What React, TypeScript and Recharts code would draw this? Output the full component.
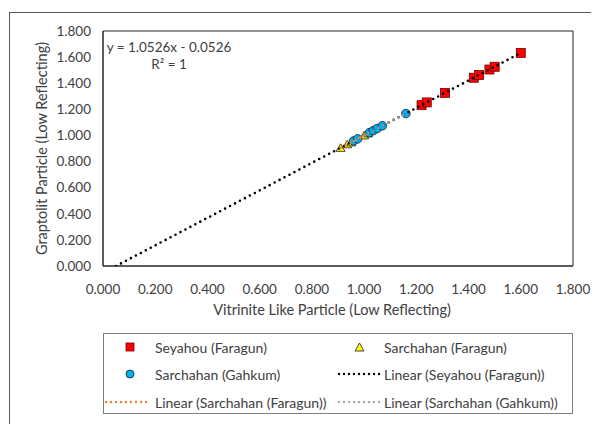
import React from 'react';
import { ScatterChart, Scatter, XAxis, YAxis, ReferenceArea, Legend, Customized, Label } from 'recharts';

const axisTicks = [0, 0.2, 0.4, 0.6, 0.8, 1.0, 1.2, 1.4, 1.6, 1.8];

const seyahouX = [1.22, 1.24, 1.31, 1.42, 1.44, 1.48, 1.5, 1.6];
const seyahouY = [1.232, 1.253, 1.326, 1.442, 1.463, 1.505, 1.526, 1.632];

const faragunX = [0.91, 0.935, 0.95, 1.0, 1.015];
const faragunY = [0.905, 0.932, 0.947, 1.0, 1.016];

const gahkumX = [0.96, 0.975, 1.02, 1.035, 1.05, 1.07, 1.16];
const gahkumY = [0.958, 0.974, 1.021, 1.037, 1.053, 1.074, 1.168];

const seyahouTrendX = [0.05, 1.6];
const seyahouTrendY = [0, 1.632];
const faragunTrendX = [0.91, 1.015];
const faragunTrendY = [0.905, 1.016];
const gahkumTrendX = [0.96, 1.16];
const gahkumTrendY = [0.958, 1.168];

const equationLines = ['y = 1.0526x - 0.0526', 'R² = 1'];

const zip = (xs: number[], ys: number[]) => xs.map((x, i) => ({ x, y: ys[i] }));

const seyahouData = zip(seyahouX, seyahouY);
const faragunData = zip(faragunX, faragunY);
const gahkumData = zip(gahkumX, gahkumY);
const seyahouTrend = zip(seyahouTrendX, seyahouTrendY);
const faragunTrend = zip(faragunTrendX, faragunTrendY);
const gahkumTrend = zip(gahkumTrendX, gahkumTrendY);

const FONT = 'Lato, "Open Sans", sans-serif';
const TEXT = '#404040';
const FS = 14;

const SquareShape = (p: any) => (
  <rect x={p.cx - 4.5} y={p.cy - 4.5} width={9} height={9} fill="#ff0000" stroke="#700000" strokeWidth={0.8} />
);
const CircleShape = (p: any) => (
  <circle cx={p.cx} cy={p.cy} r={4.3} fill="#00b0f0" stroke="#1a1a1a" strokeWidth={0.8} />
);
const TriangleShape = (p: any) => (
  <path d={`M${p.cx},${p.cy - 4} L${p.cx + 4.5},${p.cy + 3.5} L${p.cx - 4.5},${p.cy + 3.5} Z`} fill="#ffff00" stroke="#1a1a1a" strokeWidth={0.8} />
);
const NoShape = () => <g />;

const dotted = (color: string) => ({
  stroke: color,
  strokeWidth: 2.6,
  strokeDasharray: '0 5.6',
  strokeLinecap: 'round' as const,
});

const LegendLine = ({ color, width }: { color: string; width: number }) => (
  <svg width={width} height={6} style={{ display: 'block' }}>
    <line x1={2} y1={3} x2={width - 2} y2={3} stroke={color} strokeWidth={2.4} strokeDasharray="0 5" strokeLinecap="round" />
  </svg>
);

const renderLegend = () => {
  const item = (left: number, top: number, node: React.ReactNode) => (
    <div style={{ position: 'absolute', left, top, transform: 'translateY(-50%)', lineHeight: 0 }}>{node}</div>
  );
  const label = (left: number, top: number, text: string) => (
    <div style={{ position: 'absolute', left, top, transform: 'translateY(-50%)', fontSize: FS, color: TEXT, fontFamily: FONT, whiteSpace: 'nowrap', lineHeight: '17px' }}>{text}</div>
  );
  return (
    <div style={{ position: 'relative', width: 470, height: 81, border: '1px solid #7f7f7f', boxSizing: 'border-box', background: '#fff' }}>
      {item(21, 13, <svg width={10} height={10}><rect x={1} y={1} width={8} height={8} fill="#ff0000" stroke="#700000" strokeWidth={0.8} /></svg>)}
      {label(51, 13, 'Seyahou (Faragun)')}
      {item(250, 13, <svg width={11} height={10}><path d="M5.5,1 L10,9 L1,9 Z" fill="#ffff00" stroke="#1a1a1a" strokeWidth={0.8} /></svg>)}
      {label(280, 13, 'Sarchahan (Faragun)')}
      {item(21, 40, <svg width={10} height={10}><circle cx={5} cy={5} r={4} fill="#00b0f0" stroke="#1a1a1a" strokeWidth={0.8} /></svg>)}
      {label(51, 40, 'Sarchahan (Gahkum)')}
      {item(233, 40, <LegendLine color="#000" width={46} />)}
      {label(280, 40, 'Linear (Seyahou (Faragun))')}
      {item(0, 68, <LegendLine color="#ed7d31" width={48} />)}
      {label(51, 68, 'Linear (Sarchahan (Faragun))')}
      {item(233, 68, <LegendLine color="#a6a6a6" width={46} />)}
      {label(280, 68, 'Linear (Sarchahan (Gahkum))')}
    </div>
  );
};

const Equation = () => (
  <g>
    <text x={169} y={52} textAnchor="middle" fontSize={13.5} fill={TEXT} fontFamily={FONT}>{equationLines[0]}</text>
    <text x={169} y={69} textAnchor="middle" fontSize={13.5} fill={TEXT} fontFamily={FONT}>{equationLines[1]}</text>
  </g>
);

export default function App() {
  return (
    <div style={{ position: 'relative', left: -8, top: -8, width: 599, height: 428, background: '#fff', fontFamily: FONT }}>
      <div style={{ position: 'absolute', left: 9, top: 12, right: 0, bottom: 4, borderTop: '1px solid #595959', borderLeft: '1px solid #595959' }} />
      <ScatterChart width={599} height={428} margin={{ top: 31, right: 26, left: 0, bottom: 74 }} style={{ position: 'absolute', left: 0, top: 0 }}>
        <XAxis
          type="number"
          dataKey="x"
          domain={[0, 1.8]}
          ticks={axisTicks}
          tickFormatter={(v: number) => v.toFixed(3)}
          tickLine={false}
          tickSize={6}
          tickMargin={12}
          height={88}
          stroke="#262626"
          tick={{ fill: TEXT, fontSize: 13.5, fontFamily: FONT }}
          allowDataOverflow
        >
          <Label value="Vitrinite Like Particle (Low Reflecting)" position="center" dx={-6} style={{ fill: TEXT, fontSize: 14.5, fontFamily: FONT }} />
        </XAxis>
        <YAxis
          type="number"
          dataKey="y"
          domain={[0, 1.8]}
          ticks={axisTicks}
          tickFormatter={(v: number) => v.toFixed(3)}
          tickLine={false}
          tickSize={6}
          tickMargin={6}
          width={103}
          stroke="#262626"
          tick={{ fill: TEXT, fontSize: 13.5, fontFamily: FONT }}
          allowDataOverflow
        >
          <Label value="Graptolit Particle (Low Reflecting)" position="center" angle={-90} dx={-10} style={{ fill: TEXT, fontSize: 14.5, fontFamily: FONT, textAnchor: 'middle' }} />
        </YAxis>
        <ReferenceArea x1={0} x2={1.8} y1={0} y2={1.8} fill="none" stroke="#262626" strokeWidth={1} fillOpacity={0} />
        <Scatter name="Seyahou (Faragun)" data={seyahouData} shape={SquareShape} isAnimationActive={false} />
        <Scatter name="Sarchahan (Faragun)" data={faragunData} shape={TriangleShape} isAnimationActive={false} />
        <Scatter name="Sarchahan (Gahkum)" data={gahkumData} shape={CircleShape} isAnimationActive={false} />
        <Scatter name="Linear (Seyahou (Faragun))" data={seyahouTrend} shape={NoShape} line={dotted('#000000')} isAnimationActive={false} legendType="none" />
        <Scatter name="Linear (Sarchahan (Faragun))" data={faragunTrend} shape={NoShape} line={dotted('#ed7d31')} isAnimationActive={false} legendType="none" />
        <Scatter name="Linear (Sarchahan (Gahkum))" data={gahkumTrend} shape={NoShape} line={dotted('#a6a6a6')} isAnimationActive={false} legendType="none" />
        <Customized component={Equation} />
        <Legend content={renderLegend} layout="horizontal" verticalAlign="middle" align="center" wrapperStyle={{ left: 103, top: 333, width: 470, height: 81 }} />
      </ScatterChart>
    </div>
  );
}
